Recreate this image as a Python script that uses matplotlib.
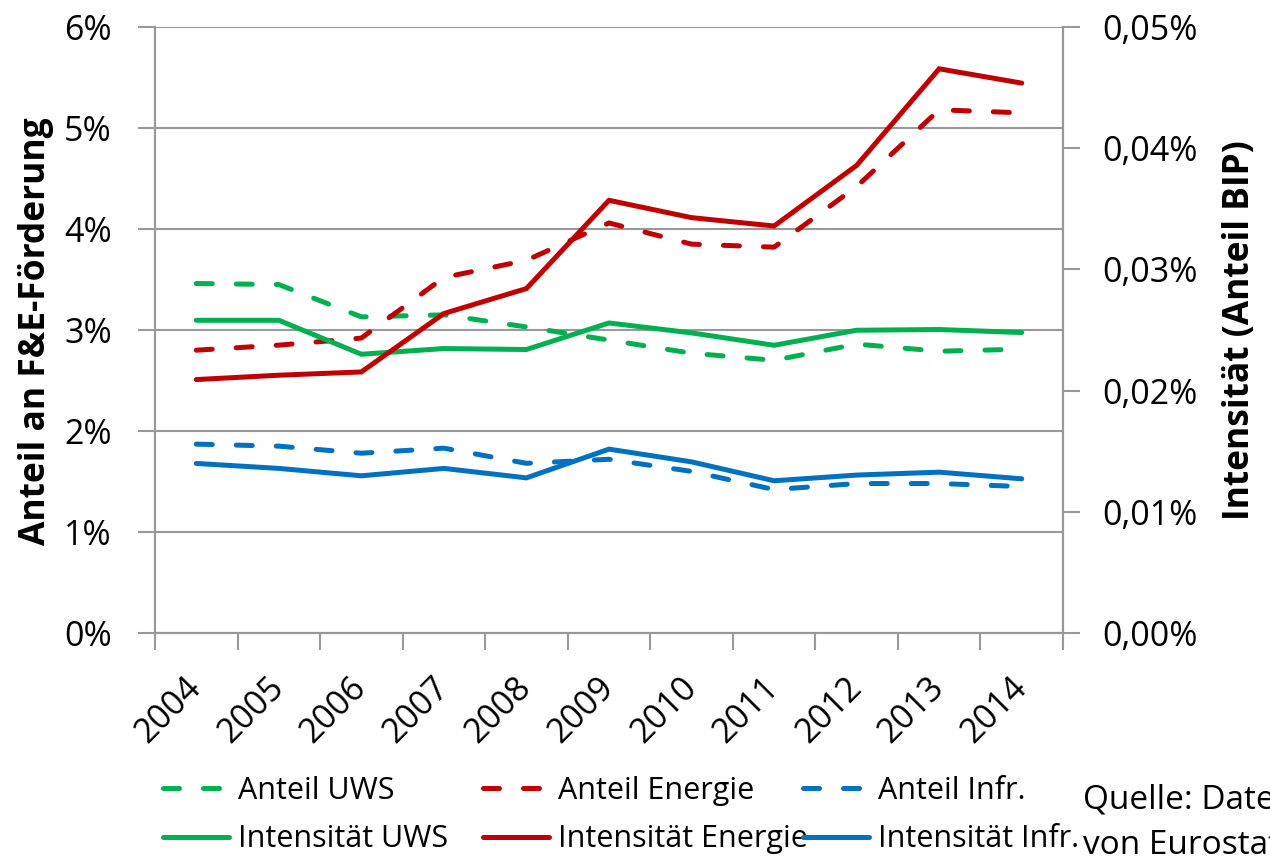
import matplotlib
matplotlib.use("Agg")
import matplotlib.pyplot as plt
from matplotlib.ticker import FixedLocator, FuncFormatter

plt.rcParams['font.family'] = ['Open Sans', 'DejaVu Sans']

years = ['2004', '2005', '2006', '2007', '2008', '2009', '2010', '2011', '2012', '2013', '2014']

# Anteil an F&E-Förderung (%), left axis
anteil_uws = [3.46, 3.45, 3.13, 3.15, 3.03, 2.90, 2.77, 2.70, 2.86, 2.79, 2.81]
anteil_energie = [2.80, 2.85, 2.92, 3.52, 3.69, 4.06, 3.85, 3.82, 4.42, 5.18, 5.15]
anteil_infr = [1.87, 1.85, 1.78, 1.83, 1.68, 1.72, 1.60, 1.42, 1.48, 1.48, 1.45]

# Intensität (Anteil BIP, %), right axis
intens_uws = [0.0258, 0.0258, 0.0230, 0.02347, 0.02339, 0.02558, 0.02476, 0.02374, 0.02498, 0.02504, 0.02479]
intens_energie = [0.02091, 0.02127, 0.02154, 0.02636, 0.02842, 0.0357, 0.03427, 0.03358, 0.03858, 0.04655, 0.04537]
intens_infr = [0.01399, 0.01358, 0.01297, 0.01358, 0.0128, 0.01517, 0.01412, 0.01256, 0.01303, 0.01327, 0.01272]

GREEN = '#00B050'
RED = '#C00000'
BLUE = '#0070C0'
GRID = '#999999'

fig = plt.figure(figsize=(12.7, 8.6), dpi=100)
ax = fig.add_axes([155/1270, 1 - 633/860, (1063-155)/1270, (633-27)/860])
ax2 = ax.twinx()

x = list(range(len(years)))
lw = 3.6
dash = (3.2, 4.8)

l_au, = ax.plot(x, anteil_uws, color=GREEN, lw=lw, dashes=dash, dash_capstyle='round')
l_ae, = ax.plot(x, anteil_energie, color=RED, lw=lw, dashes=dash, dash_capstyle='round')
l_ai, = ax.plot(x, anteil_infr, color=BLUE, lw=lw, dashes=dash, dash_capstyle='round')
l_iu, = ax2.plot(x, intens_uws, color=GREEN, lw=lw, solid_capstyle='round', solid_joinstyle='miter')
l_ie, = ax2.plot(x, intens_energie, color=RED, lw=lw, solid_capstyle='round', solid_joinstyle='miter')
l_ii, = ax2.plot(x, intens_infr, color=BLUE, lw=lw, solid_capstyle='round', solid_joinstyle='miter')

ax.set_xlim(-0.5, 10.5)
ax.set_ylim(0, 6)
ax2.set_ylim(0, 0.05)

ax.set_yticks([0, 1, 2, 3, 4, 5, 6])
ax.yaxis.set_major_formatter(FuncFormatter(lambda v, p: f"{int(round(v))}%"))
ax2.set_yticks([0, 0.01, 0.02, 0.03, 0.04, 0.05])
ax2.yaxis.set_major_formatter(FuncFormatter(lambda v, p: f"{v:.2f}".replace('.', ',') + "%"))

ax.xaxis.set_major_locator(FixedLocator([i - 0.5 for i in range(len(years) + 1)]))
ax.xaxis.set_minor_locator(FixedLocator(x))
ax.set_xticklabels([], minor=False)
ax.set_xticklabels(years, minor=True, rotation=45, ha='right', va='center', rotation_mode='anchor')

fs = 24.5
ax.tick_params(axis='y', which='major', direction='out', length=12, width=1.5, color=GRID, labelsize=fs, pad=19)
ax2.tick_params(axis='y', which='major', direction='out', length=12, width=1.5, color=GRID, labelsize=fs, pad=16)
ax.tick_params(axis='x', which='major', direction='out', length=12, width=1.5, color=GRID)
ax.tick_params(axis='x', which='minor', length=0, labelsize=fs, pad=36)

ax.grid(axis='y', color=GRID, lw=1.5)
ax.set_axisbelow(True)
for a in (ax, ax2):
    a.spines['top'].set_visible(False)
    for s in ('left', 'right', 'bottom'):
        a.spines[s].set_color(GRID)
        a.spines[s].set_linewidth(1.5)

fig.text(36/1270, 1 - 331/860, 'Anteil an F&E-Förderung', rotation=90, ha='center', va='center',
         fontsize=25.5, fontweight='bold')
fig.text(1240/1270, 1 - 330/860, 'Intensität (Anteil BIP)', rotation=90, ha='center', va='center',
         fontsize=25.5, fontweight='bold')

# legend: three columns, two rows
cols = [(l_au, 'Anteil UWS', l_iu, 'Intensität UWS', 163),
        (l_ae, 'Anteil Energie', l_ie, 'Intensität Energie', 483),
        (l_ai, 'Anteil Infr.', l_ii, 'Intensität Infr.', 803)]
for h1, t1, h2, t2, xp in cols:
    fig.legend([h1, h2], [t1, t2], loc='upper left', bbox_to_anchor=(xp/1270, 1 - 776/860),
               frameon=False, fontsize=22, handlelength=2.15, handletextpad=0.3,
               labelspacing=0.6, borderpad=0, borderaxespad=0)

fig.text(1083/1270, 1 - 800/860, 'Quelle: Daten', fontsize=24, ha='left', va='center')
fig.text(1083/1270, 1 - 845/860, 'von Eurostat', fontsize=24, ha='left', va='center')

fig.savefig('out.png', dpi=100)
